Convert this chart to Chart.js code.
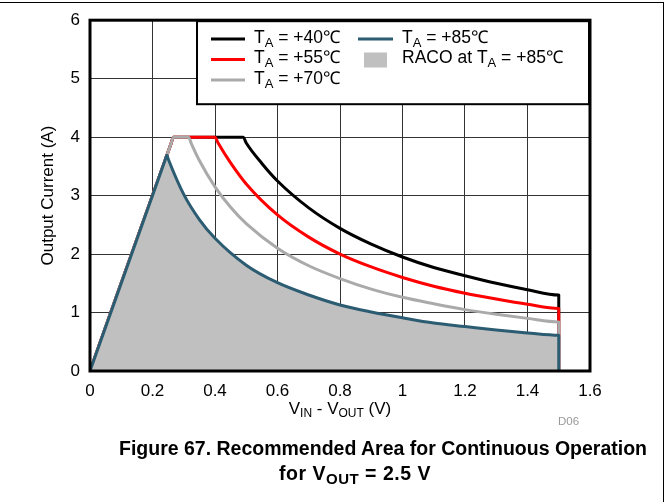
<!DOCTYPE html>
<html>
<head>
<meta charset="utf-8">
<script src="https://cdn.jsdelivr.net/npm/chart.js@4.4.1/dist/chart.umd.min.js"></script>
<style>
body { margin:0; background:#fff; font-family:"Liberation Sans", Arial, sans-serif; }
#wrap { position:relative; width:669px; height:502px; overflow:hidden; }
#frame { position:absolute; left:0; top:2px; width:663px; height:510px; border-top:1px solid #000; border-right:1px solid #000; }
#code { position:absolute; left:558px; top:415px; font-size:11.5px; color:#999; }
.cap { position:absolute; text-align:center; font-weight:bold; font-size:19.5px; line-height:25px; color:#000; white-space:nowrap; }
#cap1 { left:83px; width:600px; top:436px; }
#cap2 { left:155px; width:400px; top:461px; letter-spacing:0.5px; }
.cap sub { font-size:15px; vertical-align:-4px; line-height:0; }
</style>
</head>
<body>
<div id="wrap">
  <div id="frame"></div>
  <canvas id="myChart" width="669" height="430"></canvas>
  <div id="code">D06</div>
  <div class="cap" id="cap1">Figure 67. Recommended Area for Continuous Operation</div>
  <div class="cap" id="cap2">for V<sub>OUT</sub> = 2.5 V</div>
</div>
<script>
// V_IN - V_OUT (V) and output current (A)
var vBlack = [0, 0.26, 0.267, 0.49, 0.5, 0.55, 0.6, 0.7, 0.8, 0.9, 1.0, 1.1, 1.2, 1.3, 1.4, 1.5, 1.5];
var iBlack = [0, 3.9, 4, 4, 3.9, 3.55, 3.25, 2.79, 2.44, 2.17, 1.95, 1.77, 1.63, 1.50, 1.39, 1.30, 0];

var vRed = [0, 0.26, 0.267, 0.40, 0.41, 0.45, 0.5, 0.6, 0.7, 0.8, 0.9, 1.0, 1.1, 1.2, 1.3, 1.4, 1.5, 1.5];
var iRed = [0, 3.9, 4, 4, 3.9, 3.56, 3.2, 2.67, 2.29, 2.0, 1.78, 1.6, 1.45, 1.33, 1.23, 1.14, 1.07, 0];

var vGray = [0, 0.26, 0.267, 0.315, 0.325, 0.35, 0.4, 0.45, 0.5, 0.6, 0.7, 0.8, 0.9, 1.0, 1.1, 1.2, 1.3, 1.4, 1.5, 1.5];
var iGray = [0, 3.9, 4, 4, 3.88, 3.6, 3.15, 2.8, 2.52, 2.1, 1.8, 1.58, 1.4, 1.26, 1.15, 1.05, 0.97, 0.9, 0.84, 0];

var vTeal = [0, 0.24, 0.246, 0.25, 0.3, 0.35, 0.4, 0.5, 0.6, 0.7, 0.8, 0.9, 1.0, 1.1, 1.2, 1.3, 1.4, 1.5, 1.5];
var iTeal = [0, 3.6, 3.69, 3.63, 3.02, 2.59, 2.27, 1.81, 1.51, 1.30, 1.13, 1.01, 0.91, 0.82, 0.76, 0.70, 0.65, 0.61, 0];

var temps = ['+40℃', '+55℃', '+70℃', '+85℃'];
var colors = ['#000000', '#ff0000', '#aaaaaa', '#2b5c72'];
var racoColor = '#c0c0c0';

var xTicks = [0, 0.2, 0.4, 0.6, 0.8, 1, 1.2, 1.4, 1.6];
var yTicks = [0, 1, 2, 3, 4, 5, 6];

var FONT = '"Liberation Sans", Arial, sans-serif';

function pts(xs, ys) {
  return xs.map(function(x, i){ return {x: x, y: ys[i]}; });
}

// draws text with subscripts, runs = [[text, isSub], ...]
function drawRuns(ctx, runs, x, y, size, align) {
  var subSize = Math.round(size * 0.72);
  var w = 0;
  runs.forEach(function(r){
    ctx.font = (r[1] ? subSize : size) + 'px ' + FONT;
    w += ctx.measureText(r[0]).width;
  });
  var cx = align === 'center' ? x - w / 2 : x;
  ctx.textAlign = 'left';
  ctx.textBaseline = 'middle';
  runs.forEach(function(r){
    ctx.font = (r[1] ? subSize : size) + 'px ' + FONT;
    ctx.fillText(r[0], cx, r[1] ? y + size * 0.3 : y);
    cx += ctx.measureText(r[0]).width;
  });
}

var extras = {
  id: 'extras',
  afterDatasetsDraw: function(chart){
    var ctx = chart.ctx, a = chart.chartArea;
    var bx = a.left + 107, by = a.top + 1, bw = a.right - 1 - bx, bh = 83;
    ctx.save();
    ctx.fillStyle = '#fff';
    ctx.fillRect(bx, by, bw, bh);
    ctx.lineWidth = 2;
    ctx.strokeStyle = '#000';
    ctx.strokeRect(bx, by, bw, bh);
    var rows = [39, 59.5, 80];
    var cols = [[211, 245, 254], [358, 393, 402]];
    for (var i = 0; i < temps.length; i++) {
      var c = cols[i < 3 ? 0 : 1], yy = rows[i < 3 ? i : 0];
      ctx.strokeStyle = colors[i];
      ctx.lineWidth = 3;
      ctx.beginPath(); ctx.moveTo(c[0], yy); ctx.lineTo(c[1], yy); ctx.stroke();
      ctx.fillStyle = '#000';
      drawRuns(ctx, [['T', 0], ['A', 1], [' = ' + temps[i], 0]], c[2], yy - 1, 17.5, 'left');
    }
    ctx.fillStyle = racoColor;
    ctx.fillRect(364, 52.5, 23, 15);
    ctx.fillStyle = '#000';
    drawRuns(ctx, [['RACO at T', 0], ['A', 1], [' = ' + temps[3], 0]], 402, rows[1] - 1, 17.5, 'left');
    ctx.restore();
  },
  afterDraw: function(chart){
    var ctx = chart.ctx, a = chart.chartArea;
    ctx.save();
    ctx.lineWidth = 3;
    ctx.strokeStyle = '#000';
    ctx.strokeRect(a.left, a.top, a.right - a.left, a.bottom - a.top);
    ctx.fillStyle = '#000';
    drawRuns(ctx, [['V', 0], ['IN', 1], [' - V', 0], ['OUT', 1], [' (V)', 0]], (a.left + a.right) / 2, 409, 17, 'center');
    ctx.restore();
  }
};

var ctx = document.getElementById('myChart');
var myChart = new Chart(ctx, {
  type: 'line',
  data: {
    datasets: [
      {label: 'TA = ' + temps[0], data: pts(vBlack, iBlack), borderColor: colors[0], fill: false, order: 4},
      {label: 'TA = ' + temps[1], data: pts(vRed, iRed), borderColor: colors[1], fill: false, order: 3},
      {label: 'TA = ' + temps[2], data: pts(vGray, iGray), borderColor: colors[2], fill: false, order: 2},
      {label: 'TA = ' + temps[3], data: pts(vTeal, iTeal), borderColor: colors[3], backgroundColor: racoColor, fill: 'origin', order: 1}
    ]
  },
  options: {
    responsive: false,
    animation: false,
    layout: {padding: {left: 0, right: 79, top: 17, bottom: 0}},
    elements: {
      point: {radius: 0},
      line: {borderWidth: 3, cubicInterpolationMode: 'monotone', borderJoinStyle: 'round'}
    },
    plugins: {legend: {display: false}, tooltip: {enabled: false}},
    scales: {
      x: {
        type: 'linear', min: 0, max: 1.6,
        afterBuildTicks: function(s){ s.ticks = xTicks.map(function(v){ return {value: v}; }); },
        afterFit: function(s){ s.height = 59; },
        grid: {color: '#333', lineWidth: 1, drawTicks: false},
        border: {display: false},
        ticks: {padding: 10, color: '#000', font: {size: 17, family: FONT}, maxRotation: 0,
          callback: function(v){ return String(v); }}
      },
      y: {
        type: 'linear', min: 0, max: 6,
        afterBuildTicks: function(s){ s.ticks = yTicks.map(function(v){ return {value: v}; }); },
        afterFit: function(s){ s.width = 90; },
        grid: {color: '#333', lineWidth: 1, drawTicks: false},
        border: {display: false},
        ticks: {padding: 10, color: '#000', font: {size: 17, family: FONT}},
        title: {display: true, text: 'Output Current (A)', color: '#000', font: {size: 17, family: FONT}, padding: {top: 38, bottom: 0}}
      }
    }
  },
  plugins: [extras]
});
</script>
</body>
</html>
